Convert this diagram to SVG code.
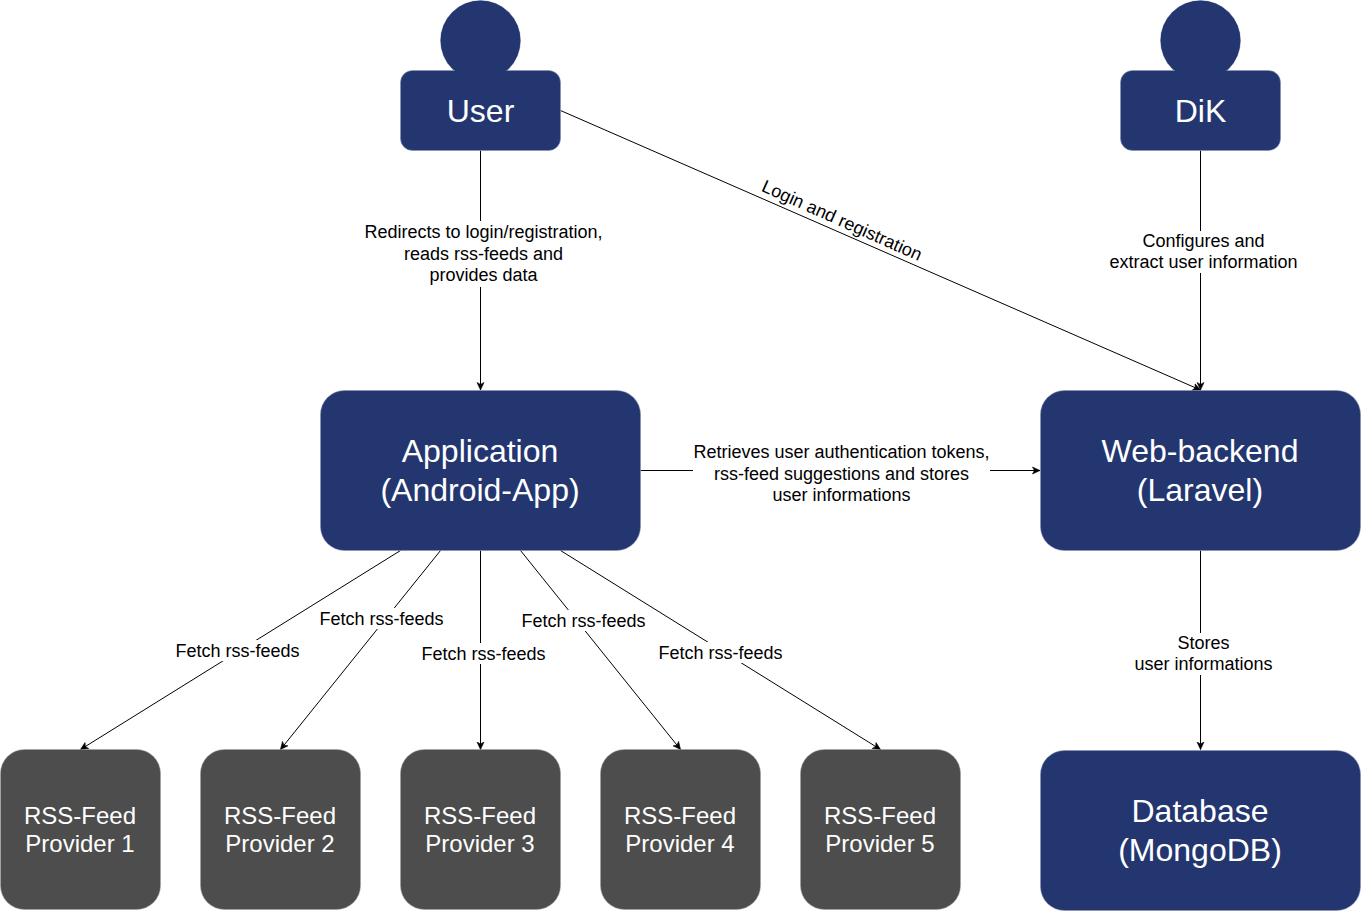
<svg xmlns="http://www.w3.org/2000/svg" width="1362" height="911" viewBox="0 0 1362 911">
<style>
text{font-family:"Liberation Sans",Arial,sans-serif;text-anchor:middle}
.blue{fill:#233670;stroke:#8490b3;stroke-width:.5}
.fill{fill:#233670}
.grey{fill:#4d4d4d;stroke:#a0a0a0;stroke-width:.5}
.n32{font-size:32px;fill:#fff}
.n24{font-size:24px;fill:#fff}
.lbl{font-size:18px;fill:#000}
.c{fill:none;stroke:#000;stroke-width:1;marker-end:url(#a)}
.bg{fill:#fff}
</style>
<defs><marker id="a" markerUnits="userSpaceOnUse" markerWidth="10" markerHeight="10" refX="8" refY="4" orient="auto" viewBox="0 0 10 8"><path d="M0.5 0.5L8 4L0.5 7.5L2.4 4Z" fill="#000" stroke="#000" stroke-width=".6"/></marker></defs>
<rect width="1362" height="911" fill="#fff"/>
<g id="connectors">
<path class="c" d="M480.500 150.500V390"/>
<path class="c" d="M560.500 110.500L1200.500 390"/>
<path class="c" d="M1200.500 150.500V390"/>
<path class="c" d="M640.500 470.500H1040"/>
<path class="c" d="M1200.500 550.500V749.500"/>
<path class="c" d="M400.500 550.500L80.500 749.500"/>
<path class="c" d="M440.500 550.500L280.500 749.500"/>
<path class="c" d="M480.500 550.500V749.500"/>
<path class="c" d="M520.500 550.500L680.500 749.500"/>
<path class="c" d="M560.500 550.500L880.500 749.500"/>
<g id="labels">
<rect class="bg" x="364" y="221" width="239" height="66"/>
<text class="lbl" x="483.500" y="237.500">Redirects to login/registration,</text>
<text class="lbl" x="483.500" y="259.500">reads rss-feeds and</text>
<text class="lbl" x="483.500" y="280.500">provides data</text>
<rect class="bg" x="1109" y="231" width="189" height="42"/>
<text class="lbl" x="1203.500" y="246.500">Configures and</text>
<text class="lbl" x="1203.500" y="267.500">extract user information</text>
<rect class="bg" x="693" y="441" width="297" height="65"/>
<text class="lbl" x="841.500" y="457.500">Retrieves user authentication tokens,</text>
<text class="lbl" x="841.500" y="479.500">rss-feed suggestions and stores</text>
<text class="lbl" x="841.500" y="500.500">user informations</text>
<rect class="bg" x="1134" y="633" width="139" height="42"/>
<text class="lbl" x="1203.500" y="648.500">Stores</text>
<text class="lbl" x="1203.500" y="669.500">user informations</text>
<rect class="bg" x="176" y="640" width="124" height="21"/>
<text class="lbl" x="237.500" y="656.500">Fetch rss-feeds</text>
<rect class="bg" x="320" y="608" width="124" height="21"/>
<text class="lbl" x="381.500" y="624.500">Fetch rss-feeds</text>
<rect class="bg" x="422" y="643" width="124" height="21"/>
<text class="lbl" x="483.500" y="659.500">Fetch rss-feeds</text>
<rect class="bg" x="522" y="610" width="124" height="21"/>
<text class="lbl" x="583.500" y="626.500">Fetch rss-feeds</text>
<rect class="bg" x="659" y="642" width="124" height="21"/>
<text class="lbl" x="720.500" y="658.500">Fetch rss-feeds</text>
<text class="lbl" transform="translate(842 220.500) rotate(24)" x="0" y="6">Login and registration</text>
</g>
</g>
<g id="user">
<circle class="blue" cx="480.500" cy="40.500" r="40"/>
<rect class="blue" x="400.500" y="70.500" width="160" height="80" rx="12"/>
<circle class="fill" cx="480.500" cy="40.500" r="39.700"/>
<text class="n32" x="480.500" y="122">User</text>
</g>
<g id="dik">
<circle class="blue" cx="1200.500" cy="40.500" r="40"/>
<rect class="blue" x="1120.500" y="70.500" width="160" height="80" rx="12"/>
<circle class="fill" cx="1200.500" cy="40.500" r="39.700"/>
<text class="n32" x="1200.500" y="122">DiK</text>
</g>
<g id="application">
<rect class="blue" x="320.500" y="390.500" width="320" height="160" rx="24"/>
<text class="n32" x="480" y="462">Application</text>
<text class="n32" x="480" y="501">(Android-App)</text>
</g>
<g id="backend">
<rect class="blue" x="1040.500" y="390.500" width="320" height="160" rx="24"/>
<text class="n32" x="1200" y="462">Web-backend</text>
<text class="n32" x="1200" y="501">(Laravel)</text>
</g>
<g id="database">
<rect class="blue" x="1040.500" y="750.500" width="320" height="160" rx="24"/>
<text class="n32" x="1200" y="822">Database</text>
<text class="n32" x="1200" y="861">(MongoDB)</text>
</g>
<g id="provider1">
<rect class="grey" x="0.500" y="749.500" width="160" height="160" rx="24"/>
<text class="n24" x="80" y="824">RSS-Feed</text>
<text class="n24" x="80" y="852">Provider 1</text>
</g>
<g id="provider2">
<rect class="grey" x="200.500" y="749.500" width="160" height="160" rx="24"/>
<text class="n24" x="280" y="824">RSS-Feed</text>
<text class="n24" x="280" y="852">Provider 2</text>
</g>
<g id="provider3">
<rect class="grey" x="400.500" y="749.500" width="160" height="160" rx="24"/>
<text class="n24" x="480" y="824">RSS-Feed</text>
<text class="n24" x="480" y="852">Provider 3</text>
</g>
<g id="provider4">
<rect class="grey" x="600.500" y="749.500" width="160" height="160" rx="24"/>
<text class="n24" x="680" y="824">RSS-Feed</text>
<text class="n24" x="680" y="852">Provider 4</text>
</g>
<g id="provider5">
<rect class="grey" x="800.500" y="749.500" width="160" height="160" rx="24"/>
<text class="n24" x="880" y="824">RSS-Feed</text>
<text class="n24" x="880" y="852">Provider 5</text>
</g>
</svg>
